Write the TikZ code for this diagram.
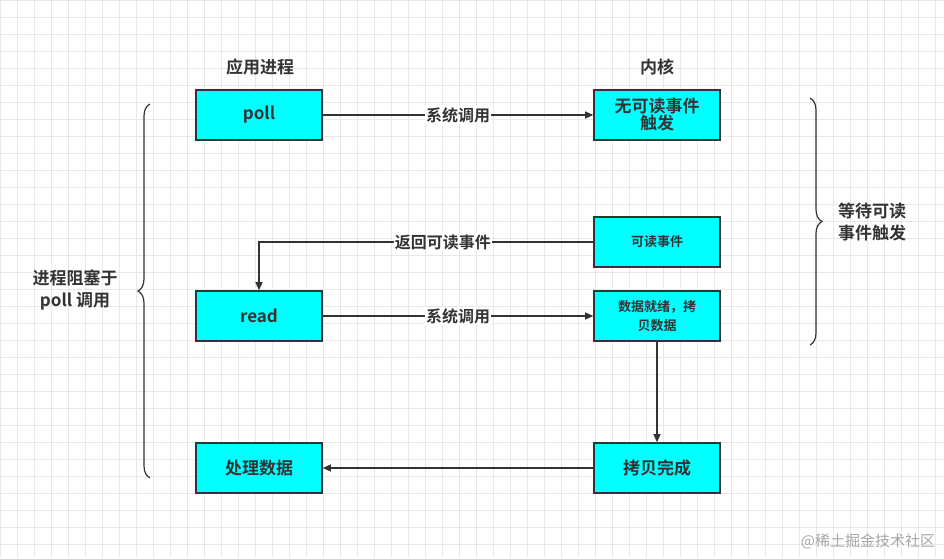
\documentclass[tikz,border=0pt]{standalone}
\usepackage{fontspec}
\setmainfont{Noto Sans CJK SC}[BoldFont={* Bold}]
\usetikzlibrary{arrows.meta,decorations.pathreplacing}
\definecolor{ink}{HTML}{333333}
\definecolor{cy}{RGB}{0,255,255}
\begin{document}
\begin{tikzpicture}[x=1pt,y=-1pt,
 box/.style={draw=ink,line width=1.6pt,fill=cy,minimum width=126pt,minimum height=50pt,inner sep=2pt,align=center,font=\bfseries\fontsize{17}{20}\selectfont,text=ink},
 sbox/.style={box,font=\bfseries\fontsize{13}{19}\selectfont},
 arr/.style={draw=ink,line width=1.3pt,-{Triangle[length=8pt,width=7pt]}},
 lab/.style={fill=white,inner sep=1pt,font=\bfseries\fontsize{16}{18}\selectfont,text=ink},
 txt/.style={font=\bfseries\fontsize{17}{22}\selectfont,text=ink,align=center},
 brace/.style={draw=ink,line width=1.2pt,decorate,decoration={brace,amplitude=12pt}}]
\useasboundingbox (0,0) rectangle (944,558);
\fill[white] (0,0) rectangle (944,558);
\foreach \i in {0,17,...,944} \draw[black!9,line width=0.5pt] (\i,0) -- (\i,558);
\foreach \j in {0,17,...,558} \draw[black!9,line width=0.5pt] (0,\j) -- (944,\j);
\node[txt] (h1) at (260,67) {应用进程};
\node[txt] (h2) at (657,67) {内核};
\node[box] (poll) at (259,115) {poll};
\node[box] (k1) at (657,115) {无可读事件\\[-3pt]触发};
\node[sbox] (k2) at (657,242) {可读事件};
\node[box] (read) at (259,316) {read};
\node[sbox] (k3) at (657,316) {数据就绪，拷\\贝数据};
\node[box] (proc) at (259,468) {处理数据};
\node[box] (k4) at (657,468) {拷贝完成};
\draw[arr] (poll) -- node[lab]{系统调用} (k1);
\draw[arr] (k2.west) -- node[lab,pos=0.45]{返回可读事件} (read.north |- k2.west) -- (read.north);
\draw[arr] (read) -- node[lab]{系统调用} (k3);
\draw[arr] (k3) -- (k4);
\draw[arr] (k4) -- (proc);
\coordinate (lb1) at (150,478); \coordinate (lb2) at (150,104);
\draw[brace] (lb1) -- (lb2);
\node[txt] (lt) at (75,290) {进程阻塞于\\poll 调用};
\coordinate (rb1) at (810,345); \coordinate (rb2) at (810,98);
\draw[brace] (rb2) -- (rb1);
\node[txt] (rt) at (872,222) {等待可读\\事件触发};
\node[font=\fontsize{15}{17}\selectfont,text=black!35] (wm) at (868,541) {@稀土掘金技术社区};
\end{tikzpicture}
\end{document}
